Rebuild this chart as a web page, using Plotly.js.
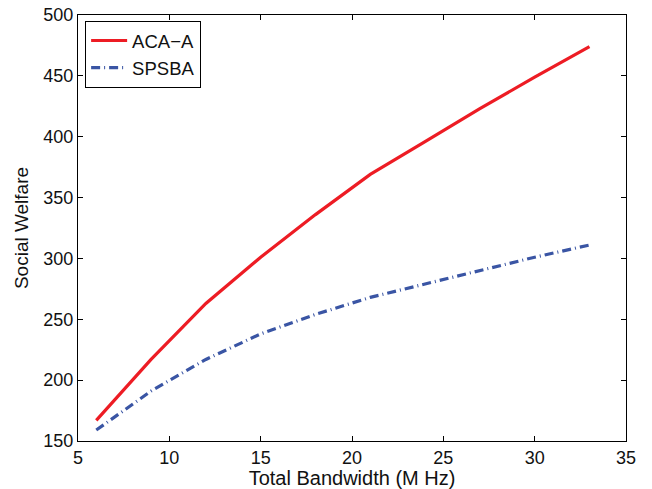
<!DOCTYPE html>
<html>
<head>
<meta charset="utf-8">
<script src="https://cdn.plot.ly/plotly-3.0.1.min.js"></script>
<style>body{margin:0;padding:0;background:#fff;}#chart{width:652px;height:489px;}</style>
</head>
<body>
<div id="chart"></div>
<script>
var bandwidth = [6, 9, 12, 15, 18, 21, 24, 27, 30, 33];
var acaA = [167, 217, 263, 301, 336, 369, 396, 423, 449, 474];
var spsba = [159, 191, 217, 238, 254, 268, 279, 290, 301, 311];
var xTicks = [5, 10, 15, 20, 25, 30, 35];
var yTicks = [150, 200, 250, 300, 350, 400, 450, 500];

var FONT = 'Liberation Sans, Arial, sans-serif';
var traces = [
  {x: bandwidth, y: acaA, name: 'ACA\u2212A', mode: 'lines', line: {color: '#ed1c24', width: 3.2}},
  {x: bandwidth, y: spsba, name: 'SPSBA', mode: 'lines', line: {color: '#3a55a4', width: 3.2, dash: '9px,4px,1px,4px'}}
];
var axisCommon = {
  showgrid: false, zeroline: false, showline: true, linecolor: '#000', linewidth: 1,
  mirror: 'ticks', ticks: 'inside', ticklen: 5, tickcolor: '#000',
  tickfont: {family: FONT, size: 18, color: '#111'}
};
var layout = {
  width: 652, height: 489,
  margin: {l: 78, r: 26, t: 15, b: 48},
  paper_bgcolor: '#fff', plot_bgcolor: '#fff',
  showlegend: true,
  legend: {x: 0.013, y: 0.986, xanchor: 'left', yanchor: 'top', bgcolor: '#fff', bordercolor: '#000', borderwidth: 1,
    font: {family: FONT, size: 18.5, color: '#111'}, tracegroupgap: 0, itemwidth: 36},
  xaxis: Object.assign({}, axisCommon, {range: [5, 35], tickvals: xTicks, ticktext: xTicks.map(String),
    title: {text: 'Total Bandwidth (M Hz)', font: {family: FONT, size: 20, color: '#111'}, standoff: 2}}),
  yaxis: Object.assign({}, axisCommon, {range: [150, 500], tickvals: yTicks, ticktext: yTicks.map(String),
    title: {text: 'Social Welfare', font: {family: FONT, size: 19, color: '#111'}, standoff: 9}})
};
Plotly.newPlot('chart', traces, layout, {displayModeBar: false, staticPlot: true});
</script>
</body>
</html>
